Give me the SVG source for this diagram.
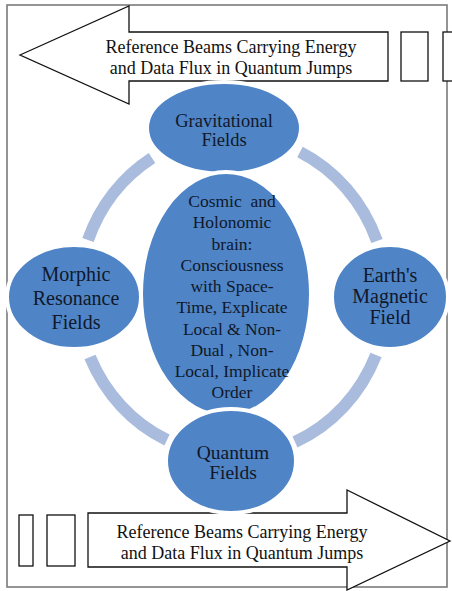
<svg xmlns="http://www.w3.org/2000/svg" width="452" height="591" viewBox="0 0 452 591">
<style>
.bg{fill:#ffffff}
.frame{fill:none;stroke:#7a7a7a;stroke-width:1.6}
.arrow{fill:#ffffff;stroke:#111111;stroke-width:1.3;stroke-linejoin:miter}
.ring{fill:none;stroke:#a9bcde;stroke-width:12;stroke-linecap:butt}
.node{fill:#4f84c6;stroke:#ffffff;stroke-width:4}
.t{font-family:'Liberation Serif',serif;fill:#10182a;text-anchor:middle}
.banner{font-size:18px;fill:#111111}
</style>
<rect class="bg" x="0" y="0" width="452" height="591"/>
<rect class="frame" x="7" y="5" width="440" height="582"/>

<g id="connectors">
  <path class="ring" d="M152,158 A153,163 0 0,0 88,240"/>
  <path class="ring" d="M300,152 A153,163 0 0,1 377,241"/>
  <path class="ring" d="M90,357 A153,163 0 0,0 167,440"/>
  <path class="ring" d="M376,355 A153,163 0 0,1 295,442"/>
</g>

<g id="top-beam">
  <polygon class="arrow" points="20,55 129,6 129,32 388,32 388,81 129,81 129,104"/>
  <rect class="arrow" x="401" y="32" width="27" height="49"/>
  <rect class="arrow" x="443" y="32" width="27" height="49"/>
  <text class="t banner" x="231" y="53">Reference Beams Carrying Energy</text>
  <text class="t banner" x="231" y="74">and Data Flux in Quantum Jumps</text>
</g>

<g id="bottom-beam">
  <polygon class="arrow" points="88,513 347,513 347,490 450,541 347,590 347,567 88,567"/>
  <rect class="arrow" x="19" y="515" width="14" height="51"/>
  <rect class="arrow" x="47" y="515" width="28" height="51"/>
  <text class="t banner" x="242" y="538">Reference Beams Carrying Energy</text>
  <text class="t banner" x="242" y="559">and Data Flux in Quantum Jumps</text>
</g>

<g id="gravitational">
  <ellipse class="node" cx="224" cy="128" rx="77" ry="46"/>
  <text class="t" font-size="18.5" x="224" y="127">Gravitational</text>
  <text class="t" font-size="18.5" x="224" y="146">Fields</text>
</g>

<g id="center">
  <ellipse class="node" cx="226" cy="294" rx="85" ry="122"/>
  <g class="t" font-size="17.5">
    <text x="232" y="207" style="white-space:pre">Cosmic  and</text>
    <text x="232" y="228">Holonomic</text>
    <text x="232" y="250">brain:</text>
    <text x="232" y="271">Consciousness</text>
    <text x="232" y="292">with Space-</text>
    <text x="232" y="313">Time, Explicate</text>
    <text x="232" y="335">Local &amp; Non-</text>
    <text x="232" y="356">Dual , Non-</text>
    <text x="232" y="377">Local, Implicate</text>
    <text x="232" y="398">Order</text>
  </g>
</g>

<g id="morphic">
  <ellipse class="node" cx="74" cy="297" rx="67" ry="52"/>
  <text class="t" font-size="20" x="76" y="281">Morphic</text>
  <text class="t" font-size="20" x="76" y="305">Resonance</text>
  <text class="t" font-size="20" x="76" y="329">Fields</text>
</g>

<g id="earth">
  <ellipse class="node" cx="390" cy="297" rx="58" ry="52"/>
  <text class="t" font-size="20" x="390" y="282">Earth's</text>
  <text class="t" font-size="20" x="390" y="303">Magnetic</text>
  <text class="t" font-size="20" x="390" y="324">Field</text>
</g>

<g id="quantum">
  <ellipse class="node" cx="231" cy="461" rx="65" ry="52"/>
  <text class="t" font-size="19.5" x="233" y="459">Quantum</text>
  <text class="t" font-size="19.5" x="233" y="479">Fields</text>
</g>
</svg>
